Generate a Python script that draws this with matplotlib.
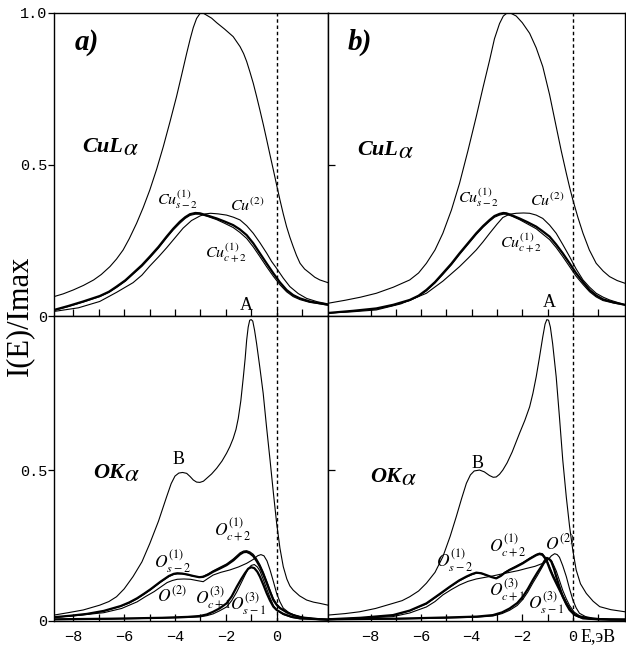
import numpy as np
import matplotlib
matplotlib.use("Agg")
import matplotlib.pyplot as plt
from matplotlib.transforms import IdentityTransform

plt.rcParams['mathtext.fontset'] = 'stix'

# ---------------- data: panel a) ----------------
# CuL_alpha band
E_cu_a = [-8.76, -8.4, -8.0, -7.6, -7.2, -6.9, -6.56, -6.3, -6.04, -5.8, -5.51, -5.25, -4.99,
          -4.72, -4.46, -4.2, -3.94, -3.74, -3.54, -3.4, -3.28, -3.15, -3.02, -2.9, -2.76,
          -2.56, -2.36, -2.05, -1.71, -1.44, -1.30, -1.18, -1.05, -0.92, -0.79, -0.66, -0.52,
          -0.39, -0.26, -0.13, 0.0, 0.13, 0.26, 0.39, 0.52, 0.65, 0.78, 0.92, 1.1, 1.31, 1.5,
          1.70, 2.02]
I_cu_a = [0.064, 0.073, 0.086, 0.101, 0.119, 0.137, 0.163, 0.188, 0.218, 0.255, 0.306, 0.358,
          0.416, 0.485, 0.559, 0.64, 0.724, 0.795, 0.867, 0.915, 0.952, 0.982, 0.998, 1.0,
          0.993, 0.983, 0.968, 0.947, 0.922, 0.889, 0.866, 0.84, 0.805, 0.768, 0.725, 0.68,
          0.63, 0.581, 0.531, 0.482, 0.432, 0.383, 0.337, 0.295, 0.26, 0.229, 0.2, 0.174,
          0.155, 0.141, 0.128, 0.119, 0.11]

# Cu^(1)_{s-2} and Cu^(1)_{c+2}
E_cu_sub_a = [-8.76, -8.2, -7.61, -6.96, -6.6, -6.30, -5.95, -5.65, -5.3, -4.99, -4.65, -4.33,
              -4.07, -3.81, -3.6, -3.41, -3.2, -3.02, -2.7, -2.36, -2.05, -1.71, -1.45, -1.18,
              -0.92, -0.66, -0.39, -0.13, 0.13, 0.39, 0.65, 0.92, 1.3, 1.70, 2.02]
I_cu_s2_a = [0.020, 0.033, 0.048, 0.066, 0.080, 0.097, 0.118, 0.141, 0.168, 0.196, 0.228, 0.262,
             0.288, 0.311, 0.326, 0.336, 0.340, 0.339, 0.331, 0.322, 0.312, 0.300, 0.286, 0.267,
             0.240, 0.207, 0.173, 0.141, 0.111, 0.086, 0.069, 0.058, 0.048, 0.042, 0.037]
I_cu_c2_a = [0.018, 0.031, 0.046, 0.064, 0.078, 0.094, 0.115, 0.138, 0.164, 0.192, 0.224, 0.258,
             0.284, 0.306, 0.322, 0.332, 0.336, 0.336, 0.328, 0.318, 0.306, 0.292, 0.276, 0.256,
             0.228, 0.196, 0.162, 0.131, 0.103, 0.080, 0.064, 0.054, 0.045, 0.040, 0.036]

# Cu^(2)
E_cu2_a = [-8.76, -7.8, -6.96, -6.3, -5.65, -5.3, -4.99, -4.65, -4.33, -4.0, -3.68, -3.35, -3.02,
           -2.8, -2.6, -2.3, -1.97, -1.7, -1.44, -1.18, -0.92, -0.66, -0.39, -0.2, 0.0, 0.26,
           0.52, 0.85, 1.18, 1.6, 2.02]
I_cu2_a = [0.015, 0.027, 0.048, 0.078, 0.110, 0.135, 0.165, 0.195, 0.225, 0.258, 0.290, 0.315,
           0.330, 0.337, 0.339, 0.337, 0.333, 0.326, 0.317, 0.298, 0.273, 0.242, 0.207, 0.180,
           0.157, 0.125, 0.097, 0.074, 0.058, 0.047, 0.040]

# OK_alpha band
E_ok_a = [-8.76, -8.2, -7.61, -6.96, -6.6, -6.30, -6.0, -5.65, -5.3, -4.99, -4.65, -4.33, -4.15,
          -4.0, -3.85, -3.7, -3.54, -3.4, -3.28, -3.15, -3.02, -2.88, -2.76, -2.56, -2.36,
          -2.15, -1.97, -1.84, -1.71, -1.6, -1.51, -1.41, -1.31, -1.24, -1.18, -1.12, -1.06,
          -1.0, -0.94, -0.87, -0.79, -0.66, -0.53, -0.40, -0.26, -0.13, 0.0, 0.13, 0.26, 0.4,
          0.52, 0.65, 0.9, 1.18, 1.45, 1.70, 2.02]
I_ok_a = [0.018, 0.026, 0.035, 0.051, 0.063, 0.079, 0.105, 0.146, 0.195, 0.256, 0.330, 0.411,
          0.455, 0.480, 0.490, 0.492, 0.489, 0.478, 0.467, 0.460, 0.459, 0.463, 0.472, 0.487,
          0.506, 0.530, 0.556, 0.578, 0.605, 0.635, 0.672, 0.730, 0.810, 0.870, 0.932, 0.975,
          0.998, 1.0, 0.995, 0.965, 0.921, 0.840, 0.755, 0.645, 0.533, 0.425, 0.323, 0.240,
          0.179, 0.138, 0.115, 0.101, 0.082, 0.068, 0.061, 0.057, 0.051]

# O^(1)_{s-2} and O^(1)_{c+2}
E_o1_a = [-8.76, -8.1, -7.46, -6.80, -6.14, -5.8, -5.49, -5.2, -4.96, -4.57, -4.24, -4.05, -3.91,
          -3.72, -3.52, -3.28, -3.05, -2.89, -2.70, -2.50, -2.25, -1.97, -1.7, -1.44, -1.3,
          -1.18, -1.05, -0.92, -0.79, -0.66, -0.52, -0.39, -0.26, -0.13, 0.0, 0.13, 0.4, 0.65,
          1.0, 1.70, 2.02]
I_o1_s2_a = [0.011, 0.016, 0.022, 0.032, 0.048, 0.060, 0.074, 0.090, 0.104, 0.129, 0.148, 0.155,
             0.157, 0.156, 0.153, 0.148, 0.144, 0.145, 0.152, 0.162, 0.172, 0.184, 0.200, 0.220,
             0.227, 0.228, 0.223, 0.214, 0.198, 0.179, 0.152, 0.124, 0.095, 0.068, 0.052, 0.041,
             0.027, 0.018, 0.010, 0.004, 0.003]
I_o1_c2_a = [0.010, 0.015, 0.021, 0.031, 0.047, 0.058, 0.072, 0.088, 0.102, 0.127, 0.146, 0.153,
             0.155, 0.155, 0.152, 0.147, 0.145, 0.147, 0.155, 0.165, 0.176, 0.188, 0.205, 0.225,
             0.231, 0.232, 0.228, 0.220, 0.205, 0.186, 0.160, 0.131, 0.101, 0.073, 0.055, 0.043,
             0.028, 0.019, 0.010, 0.004, 0.003]

# O^(2)
E_o2_a = [-8.76, -7.8, -6.80, -6.1, -5.49, -5.15, -4.82, -4.55, -4.31, -4.1, -3.91, -3.65, -3.39,
          -3.15, -2.89, -2.7, -2.50, -2.2, -1.84, -1.5, -1.18, -0.92, -0.75, -0.62, -0.5, -0.38,
          -0.26, -0.13, 0.0, 0.13, 0.26, 0.5, 0.79, 1.2, 1.70, 2.02]
I_o2_a = [0.011, 0.017, 0.026, 0.040, 0.062, 0.080, 0.096, 0.112, 0.126, 0.133, 0.137, 0.138,
          0.137, 0.133, 0.129, 0.140, 0.151, 0.160, 0.168, 0.178, 0.190, 0.203, 0.215, 0.219,
          0.215, 0.198, 0.168, 0.130, 0.090, 0.062, 0.041, 0.025, 0.015, 0.008, 0.004, 0.003]

# O^(3)_{c+1} and O^(3)_{s-1}
E_o3_a = [-8.76, -6.5, -4.5, -3.5, -3.02, -2.75, -2.50, -2.25, -1.97, -1.77, -1.57, -1.40, -1.25,
          -1.12, -1.0, -0.88, -0.76, -0.66, -0.52, -0.39, -0.26, -0.13, 0.0, 0.26, 0.6, 0.92,
          2.02]
I_o3_c1_a = [0.004, 0.006, 0.009, 0.012, 0.015, 0.020, 0.029, 0.040, 0.057, 0.080, 0.112, 0.137,
             0.157, 0.172, 0.177, 0.174, 0.162, 0.146, 0.118, 0.090, 0.066, 0.046, 0.035, 0.022,
             0.012, 0.007, 0.003]
I_o3_s1_a = [0.003, 0.005, 0.008, 0.010, 0.012, 0.016, 0.022, 0.032, 0.045, 0.066, 0.095, 0.124,
             0.150, 0.172, 0.183, 0.186, 0.178, 0.165, 0.135, 0.105, 0.076, 0.050, 0.035, 0.020,
             0.010, 0.006, 0.003]

# ---------------- data: panel b) ----------------
E_cu_b = [-9.68, -9.0, -8.4, -7.77, -7.1, -6.45, -6.1, -5.79, -5.45, -5.14, -4.8, -4.48, -4.15,
          -3.82, -3.55, -3.29, -3.1, -2.90, -2.75, -2.6, -2.45, -2.24, -2.0, -1.71, -1.45, -1.19,
          -0.92, -0.66, -0.46, -0.26, -0.13, 0.0, 0.2, 0.40, 0.65, 0.92, 1.2, 1.45, 1.75, 2.06]
I_cu_b = [0.042, 0.052, 0.062, 0.075, 0.095, 0.119, 0.142, 0.174, 0.218, 0.273, 0.350, 0.438,
          0.545, 0.658, 0.755, 0.845, 0.915, 0.965, 0.990, 1.0, 0.999, 0.990, 0.968, 0.933,
          0.885, 0.823, 0.730, 0.625, 0.545, 0.471, 0.425, 0.383, 0.325, 0.273, 0.218, 0.174,
          0.148, 0.130, 0.117, 0.108]

E_cu_sub_b = [-9.68, -8.7, -7.77, -7.1, -6.45, -6.1, -5.79, -5.45, -5.14, -4.8, -4.48, -4.15,
              -3.82, -3.55, -3.29, -3.1, -2.90, -2.75, -2.63, -2.4, -2.11, -1.8, -1.45, -1.2,
              -0.92, -0.66, -0.40, -0.13, 0.13, 0.4, 0.66, 0.92, 1.19, 1.6, 2.06]
I_cu_s2_b = [0.010, 0.017, 0.025, 0.037, 0.053, 0.067, 0.086, 0.112, 0.141, 0.173, 0.207, 0.240,
             0.273, 0.297, 0.317, 0.330, 0.337, 0.340, 0.339, 0.332, 0.322, 0.310, 0.295, 0.280,
             0.262, 0.236, 0.207, 0.174, 0.141, 0.112, 0.086, 0.068, 0.055, 0.045, 0.037]
I_cu_c2_b = [0.009, 0.016, 0.023, 0.035, 0.051, 0.065, 0.083, 0.109, 0.137, 0.169, 0.203, 0.236,
             0.269, 0.293, 0.313, 0.326, 0.333, 0.336, 0.336, 0.329, 0.318, 0.304, 0.288, 0.271,
             0.252, 0.226, 0.196, 0.163, 0.131, 0.104, 0.080, 0.063, 0.051, 0.043, 0.036]

E_cu2_b = [-9.68, -8.7, -7.77, -6.8, -5.79, -5.14, -4.48, -4.15, -3.82, -3.55, -3.29, -3.0,
           -2.77, -2.5, -2.24, -1.95, -1.71, -1.45, -1.19, -0.92, -0.66, -0.4, -0.13, 0.13,
           0.40, 0.66, 0.92, 1.2, 1.45, 2.06]
I_cu2_b = [0.010, 0.014, 0.020, 0.040, 0.075, 0.115, 0.163, 0.190, 0.218, 0.245, 0.273, 0.303,
           0.325, 0.336, 0.339, 0.340, 0.339, 0.333, 0.322, 0.300, 0.273, 0.236, 0.196, 0.155,
           0.119, 0.095, 0.075, 0.062, 0.053, 0.037]

E_ok_b = [-9.68, -9.0, -8.43, -7.8, -7.11, -6.75, -6.45, -6.1, -5.79, -5.45, -5.14, -4.85, -4.61,
          -4.4, -4.21, -4.05, -3.9, -3.69, -3.5, -3.3, -3.15, -3.03, -2.9, -2.77, -2.6, -2.40,
          -2.11, -1.9, -1.71, -1.58, -1.45, -1.32, -1.19, -1.10, -1.03, -0.96, -0.89, -0.8,
          -0.66, -0.53, -0.40, -0.26, -0.13, 0.0, 0.13, 0.3, 0.53, 0.8, 1.06, 1.5, 2.06]
I_ok_b = [0.018, 0.023, 0.029, 0.040, 0.057, 0.066, 0.079, 0.098, 0.124, 0.160, 0.212, 0.280,
          0.345, 0.405, 0.456, 0.484, 0.497, 0.500, 0.494, 0.482, 0.476, 0.477, 0.486, 0.500,
          0.524, 0.560, 0.622, 0.665, 0.710, 0.755, 0.810, 0.875, 0.943, 0.985, 1.0, 0.998,
          0.975, 0.920, 0.810, 0.675, 0.533, 0.410, 0.312, 0.232, 0.168, 0.122, 0.090, 0.064,
          0.046, 0.036, 0.029]

E_o1_b = [-9.68, -8.4, -7.11, -6.45, -5.79, -5.3, -4.87, -4.5, -4.21, -4.0, -3.82, -3.62, -3.42,
          -3.2, -3.03, -2.85, -2.70, -2.50, -2.25, -1.98, -1.7, -1.45, -1.32, -1.2, -1.05, -0.9,
          -0.78, -0.66, -0.46, -0.26, -0.1, 0.1, 0.40, 1.0, 2.06]
I_o1_s2_b = [0.004, 0.009, 0.018, 0.033, 0.057, 0.086, 0.112, 0.133, 0.146, 0.154, 0.159, 0.157,
             0.151, 0.144, 0.140, 0.148, 0.158, 0.168, 0.178, 0.190, 0.205, 0.217, 0.221, 0.218,
             0.201, 0.168, 0.145, 0.124, 0.090, 0.057, 0.035, 0.018, 0.007, 0.004, 0.003]
I_o1_c2_b = [0.004, 0.008, 0.017, 0.032, 0.055, 0.084, 0.110, 0.131, 0.144, 0.152, 0.157, 0.156,
             0.150, 0.144, 0.141, 0.150, 0.160, 0.170, 0.181, 0.193, 0.208, 0.220, 0.224, 0.222,
             0.206, 0.175, 0.151, 0.130, 0.095, 0.061, 0.038, 0.019, 0.008, 0.004, 0.003]

E_o2_b = [-9.68, -8.4, -7.11, -6.45, -5.79, -5.45, -5.14, -4.8, -4.48, -4.15, -3.82, -3.5, -3.17,
          -2.85, -2.50, -2.15, -1.84, -1.5, -1.19, -1.0, -0.85, -0.72, -0.62, -0.53, -0.4, -0.26,
          -0.13, 0.0, 0.13, 0.26, 0.5, 0.79, 1.4, 2.06]
I_o2_b = [0.004, 0.007, 0.013, 0.025, 0.045, 0.063, 0.085, 0.103, 0.118, 0.130, 0.138, 0.143,
          0.148, 0.154, 0.160, 0.166, 0.173, 0.180, 0.190, 0.200, 0.215, 0.222, 0.219, 0.210,
          0.182, 0.146, 0.105, 0.068, 0.042, 0.024, 0.013, 0.008, 0.004, 0.003]

E_o3_b = [-9.68, -7.0, -5.0, -3.8, -3.16, -2.8, -2.50, -2.2, -1.98, -1.78, -1.58, -1.40, -1.25,
          -1.13, -1.03, -0.94, -0.85, -0.75, -0.66, -0.53, -0.40, -0.26, -0.13, 0.05, 0.26, 0.7,
          1.45, 2.06]
I_o3_c1_b = [0.004, 0.006, 0.010, 0.013, 0.018, 0.027, 0.040, 0.058, 0.079, 0.105, 0.135, 0.160,
             0.179, 0.197, 0.208, 0.205, 0.195, 0.172, 0.146, 0.112, 0.079, 0.054, 0.035, 0.020,
             0.012, 0.006, 0.003, 0.003]
I_o3_s1_b = [0.003, 0.005, 0.008, 0.011, 0.015, 0.023, 0.034, 0.050, 0.070, 0.095, 0.125, 0.150,
             0.172, 0.190, 0.200, 0.205, 0.200, 0.182, 0.165, 0.133, 0.100, 0.072, 0.050, 0.028,
             0.016, 0.007, 0.003, 0.003]

xticks = list(range(-8, 2))
xtick_labels = ['\u22128', '', '\u22126', '', '\u22124', '', '\u22122', '', '0', '']

# ---------------- figure ----------------
W, H = 626, 646
fig = plt.figure(figsize=(W / 100, H / 100), dpi=100)


def rect(x0, y0, x1, y1):
    return [x0 / W, 1 - y1 / H, (x1 - x0) / W, (y1 - y0) / H]


def fpos(x, y):
    return x / W, 1 - y / H


ax_at = fig.add_axes(rect(54, 13, 328, 316))
ax_ab = fig.add_axes(rect(54, 316, 328, 620.5))
ax_bt = fig.add_axes(rect(328, 13, 625, 316))
ax_bb = fig.add_axes(rect(328, 316, 625, 620.5))

THIN = 0.8
THICK = 1.6
mono = 'Liberation Mono'
serif = 'Liberation Serif'

for ax, xl in ((ax_at, (-8.76, 2.02)), (ax_ab, (-8.76, 2.02)),
               (ax_bt, (-9.68, 2.06)), (ax_bb, (-9.68, 2.06))):
    ax.set_xlim(*xl)
    for s in ax.spines.values():
        s.set_linewidth(1.0)
    ax.axvline(0, color='k', lw=1.0, ls=(0, (2.5, 2.0)))
    ax.set_xticks(xticks)
    ax.tick_params(axis='x', direction='in', length=5, width=0.9)

for ax in (ax_at, ax_bt):
    ax.set_ylim(0, 1.0)
    ax.tick_params(axis='x', labelbottom=False)
for ax in (ax_ab, ax_bb):
    ax.set_ylim(0, 1.012)
    ax.set_xticklabels(xtick_labels, fontfamily=mono, fontsize=11)
    ax.tick_params(axis='x', pad=7)

ax_at.set_yticks([0, 0.5, 1.0])
ax_at.set_yticklabels(['0', '0.5', '1.0'], fontfamily=mono, fontsize=11)
ax_ab.set_yticks([0, 0.5])
ax_ab.set_yticklabels(['0', '0.5'], fontfamily=mono, fontsize=11)
for ax in (ax_at, ax_ab):
    ax.tick_params(axis='y', direction='out', length=4, width=0.9, pad=1)
for ax in (ax_bt, ax_bb):
    ax.set_yticks([0.5])
    ax.tick_params(axis='y', direction='in', length=5, width=0.9, labelleft=False)

# curves, panel a
ax_at.plot(E_cu_a, I_cu_a, color='k', lw=THIN)
ax_at.plot(E_cu_sub_a, I_cu_s2_a, color='k', lw=THICK)
ax_at.plot(E_cu_sub_a, I_cu_c2_a, color='k', lw=THIN)
ax_at.plot(E_cu2_a, I_cu2_a, color='k', lw=THIN)

ax_ab.plot(E_ok_a, I_ok_a, color='k', lw=THIN)
ax_ab.plot(E_o1_a, I_o1_s2_a, color='k', lw=THICK)
ax_ab.plot(E_o1_a, I_o1_c2_a, color='k', lw=THIN)
ax_ab.plot(E_o2_a, I_o2_a, color='k', lw=THIN)
ax_ab.plot(E_o3_a, I_o3_c1_a, color='k', lw=THICK)
ax_ab.plot(E_o3_a, I_o3_s1_a, color='k', lw=THIN)

# curves, panel b
ax_bt.plot(E_cu_b, I_cu_b, color='k', lw=THIN)
ax_bt.plot(E_cu_sub_b, I_cu_s2_b, color='k', lw=THICK)
ax_bt.plot(E_cu_sub_b, I_cu_c2_b, color='k', lw=THIN)
ax_bt.plot(E_cu2_b, I_cu2_b, color='k', lw=THIN)

ax_bb.plot(E_ok_b, I_ok_b, color='k', lw=THIN)
ax_bb.plot(E_o1_b, I_o1_s2_b, color='k', lw=THICK)
ax_bb.plot(E_o1_b, I_o1_c2_b, color='k', lw=THIN)
ax_bb.plot(E_o2_b, I_o2_b, color='k', lw=THIN)
ax_bb.plot(E_o3_b, I_o3_c1_b, color='k', lw=THICK)
ax_bb.plot(E_o3_b, I_o3_s1_b, color='k', lw=THIN)

# ---------------- text ----------------
fig.text(*fpos(20, 316), 'I(E)/Imax', rotation=90, ha='center', va='center',
         fontfamily=serif, fontsize=22)

for x, y, s in ((87, 43, 'a)'), (360, 42, 'b)')):
    fig.text(*fpos(x, y), s, ha='center', va='center', fontfamily=serif,
             fontweight='bold', fontstyle='italic', fontsize=21)

band_texts = []
for x, y, s in ((82, 152, 'CuL'), (357, 155, 'CuL'), (93, 478, 'OK'), (370, 482, 'OK')):
    band_texts.append(fig.text(*fpos(x, y), s, ha='left', va='baseline', fontfamily=serif,
                               fontweight='bold', fontstyle='italic', fontsize=16))

small = dict(ha='center', va='center', fontsize=11.5)
ok_small = dict(ha='center', va='center', fontsize=12.5)
for x, y, s in ((178, 200, r'$Cu^{(1)}_{s-2}$'), (247, 205, r'$Cu^{(2)}$'),
                (226, 253, r'$Cu^{(1)}_{c+2}$'),
                (479, 198, r'$Cu^{(1)}_{s-2}$'), (547, 200, r'$Cu^{(2)}$'),
                (521, 243, r'$Cu^{(1)}_{c+2}$')):
    fig.text(*fpos(x, y), s, **small)

for x, y, s in ((233, 530, r'$O^{(1)}_{c+2}$'), (172, 562, r'$O^{(1)}_{s-2}$'),
                (172, 595, r'$O^{(2)}$'), (213, 598, r'$O^{(3)}_{c+1}$'),
                (248, 604, r'$O^{(3)}_{s-1}$'),
                (508, 546, r'$O^{(1)}_{c+2}$'), (454, 561, r'$O^{(1)}_{s-2}$'),
                (560, 543, r'$O^{(2)}$'), (507, 590, r'$O^{(3)}_{c+1}$'),
                (546, 603, r'$O^{(3)}_{s-1}$')):
    fig.text(*fpos(x, y), s, **ok_small)

for x, y, s in ((246, 306, 'A'), (549, 302, 'A'), (179, 459, 'B'), (478, 463, 'B')):
    fig.text(*fpos(x, y), s, ha='center', va='center', fontfamily=serif, fontsize=13)

fig.text(*fpos(581, 637), 'E,эВ', ha='left', va='center', fontfamily=serif, fontsize=13)

# alpha subscripts placed right after the bold band names
fig.canvas.draw()
renderer = fig.canvas.get_renderer()
for t in band_texts:
    bb = t.get_window_extent(renderer)
    base_y = fig.transFigure.transform(t.get_position())[1]
    fig.text(bb.x1, base_y - 3, r'$\alpha$', transform=IdentityTransform(),
             ha='left', va='baseline', fontsize=18)

fig.savefig('out.png', dpi=100)
